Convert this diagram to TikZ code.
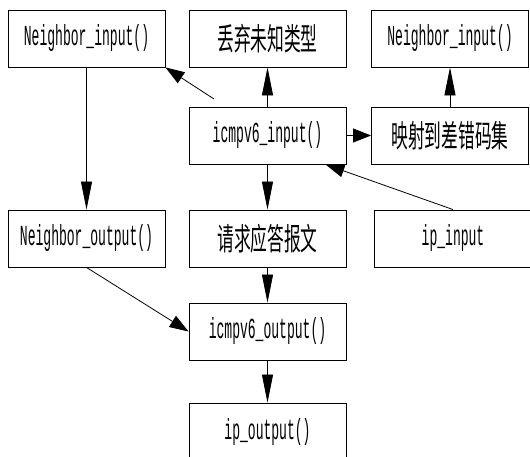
\documentclass[tikz,border=0pt]{standalone}
\usepackage{fontspec}
\usetikzlibrary{arrows.meta}
\newfontfamily\latfont[FakeStretch=0.45]{Liberation Mono}
\newfontfamily\cjkfont[FakeStretch=0.54]{Noto Sans CJK SC}
\tikzset{
  box/.style={draw=black, line width=0.9pt, rectangle, minimum width=157pt, minimum height=57pt, inner sep=0pt},
  lat/.style={font=\latfont\fontsize{29}{29}\selectfont},
  cjk/.style={font=\cjkfont\fontsize{31}{31}\selectfont},
  conn/.style={draw=black, line width=0.8pt},
  vtip/.style={conn, -{Triangle[length=28pt,width=11pt]}},
  htip/.style={conn, -{Triangle[length=18pt,width=14pt]}},
  dtip/.style={conn, -{Triangle[length=19pt,width=13pt]}}
}
\begin{document}
\begin{tikzpicture}[x=1pt,y=-1pt]
\useasboundingbox (0,0) rectangle (530,457);
\clip (0,0) rectangle (530,457);
\fill[white] (0,0) rectangle (530,457);
% row 1
\node[box,lat] (NIa) at (86.5,38.5) {Neighbor\_input()};
\node[box,cjk] (DIS) at (267.5,38.5) {丢弃未知类型};
\node[box,lat] (NIb) at (450,38.5) {Neighbor\_input()};
% row 2
\node[box,lat] (ICI) at (267.5,135.5) {icmpv6\_input()};
\node[box,cjk] (MAP) at (450,135.5) {映射到差错码集};
% row 3
\node[box,lat] (NO) at (86.5,238.5) {Neighbor\_output()};
\node[box,cjk] (REQ) at (267.5,238.5) {请求应答报文};
\node[box,lat] (IPI) at (453,238.5) {ip\_input};
% row 4
\node[box,lat] (ICO) at (267.5,331.5) {icmpv6\_output()};
% row 5
\node[box,lat] (IPO) at (267.5,431.5) {ip\_output()};
% free end
\coordinate (fe) at (214,99);
% connectors
\draw[vtip] (NIa.south) -- (NO.north);
\draw[vtip] (ICI.north) -- (DIS.south);
\draw[dtip] (fe) -- (NIa.south east);
\draw[htip] (ICI.east) -- (MAP.west);
\draw[vtip] (MAP.north) -- (NIb.south);
\draw[dtip] (IPI.north) -- ([xshift=-21pt]ICI.south east);
\draw[vtip] (ICI.south) -- (REQ.north);
\draw[dtip] (NO.south) -- (ICO.west);
\draw[vtip] (REQ.south) -- (ICO.north);
\draw[vtip] (ICO.south) -- (IPO.north);
\end{tikzpicture}
\end{document}
